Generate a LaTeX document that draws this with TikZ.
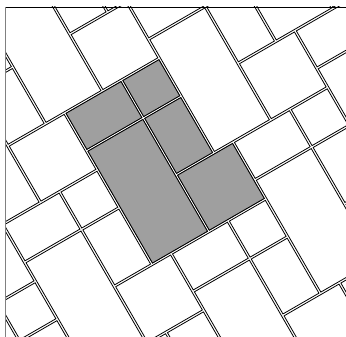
\documentclass[tikz,border=0pt]{standalone}
\usepackage{tikz}

\tikzset{
  tile/.style={draw=black, line width=0.8pt},
  graytile/.style={tile, fill=gray!75},
  frametop/.style={draw=black, line width=0.8pt},
  frameleft/.style={draw=gray, line width=1.5pt}
}
% one brick of the pattern, shrunk a little so neighbours show a double line
\def\gapw{0.025}
\newcommand{\brick}[5][tile]{%
  \draw[#1] ({\ou+#2+\gapw},{\ov+#3+\gapw}) -- ({\ou+#4-\gapw},{\ov+#3+\gapw})
    -- ({\ou+#4-\gapw},{\ov+#5-\gapw}) -- ({\ou+#2+\gapw},{\ov+#5-\gapw}) -- cycle;}
% the five bricks of one period
\newcommand{\period}[1][tile]{%
  \brick[#1]{0}{0}{1.5}{1} \brick[#1]{1.5}{0}{2.5}{1}
  \brick[#1]{0}{1}{1.5}{4} \brick[#1]{1.5}{1}{2.5}{2.5}
  \brick[#1]{1.5}{2.5}{3}{4}}

\begin{document}
\begin{tikzpicture}[x=1pt, y=1pt]
  \useasboundingbox (0,-337) rectangle (346,0);
  \clip (5,-7) rectangle (346,-337);
  % rotated brick pattern
  \begin{scope}[xshift=64.59pt, yshift=-112.92pt, rotate=30, x=43.75pt, y=-43.75pt]
    \foreach \i in {-3,...,3}{
      \foreach \j in {-2,...,2}{
        \pgfmathsetmacro\ou{2.5*\i+0.5*\j}
        \pgfmathsetmacro\ov{-1.5*\i+4*\j}
        \period
      }
    }
    % highlighted period
    \def\ou{0}\def\ov{0}
    \period[graytile]
  \end{scope}
  % frame
  \draw[frametop] (5,-7) -- (346,-7);
  \draw[frameleft] (5,-7) -- (5,-337);
\end{tikzpicture}
\end{document}
